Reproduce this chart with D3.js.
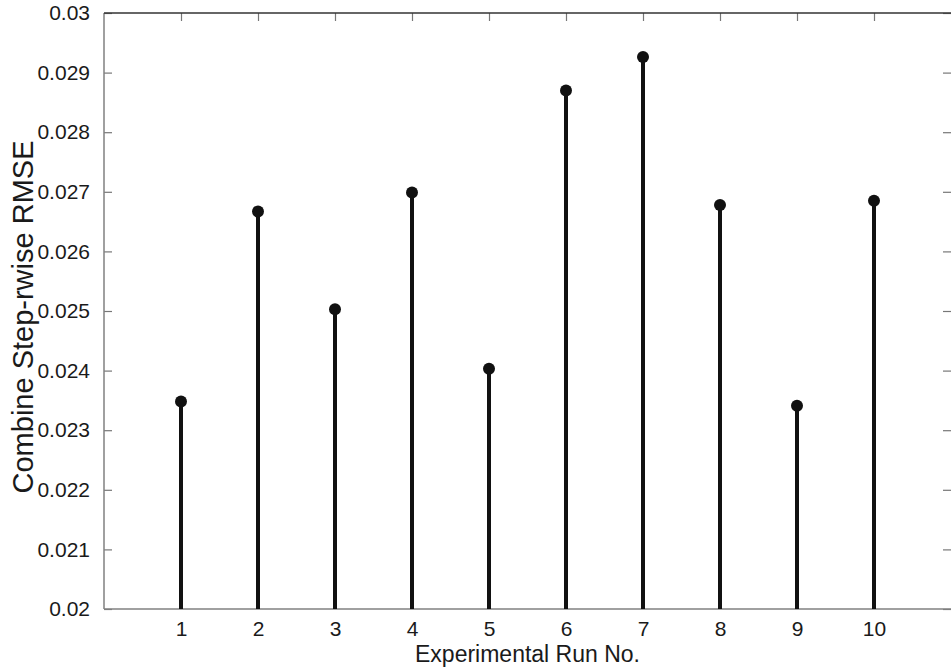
<!DOCTYPE html>
<html>
<head>
<meta charset="utf-8">
<script src="https://cdn.jsdelivr.net/npm/d3@7"></script>
<style>
  html, body { margin: 0; padding: 0; background: #fff; }
  text { font-family: "Liberation Sans", Arial, Helvetica, sans-serif; fill: #1a1a1a; }
</style>
</head>
<body>
<div id="chart"></div>
<script>
const runs = [1, 2, 3, 4, 5, 6, 7, 8, 9, 10];
const rmse = [0.02348, 0.02667, 0.02503, 0.02699, 0.02403, 0.02870, 0.02926, 0.02678, 0.02341, 0.02685];
const yTicks = [0.02, 0.021, 0.022, 0.023, 0.024, 0.025, 0.026, 0.027, 0.028, 0.029, 0.03];
const yTickLabels = ["0.02", "0.021", "0.022", "0.023", "0.024", "0.025", "0.026", "0.027", "0.028", "0.029", "0.03"];
const xLabel = "Experimental Run No.";
const yLabel = "Combine Step-rwise RMSE";

const W = 951, H = 667;
const margin = { top: 13, right: 0, bottom: 58, left: 104 };
const width = W - margin.left - margin.right;
const height = H - margin.top - margin.bottom;

const x = d3.scaleLinear().domain([0, 11]).range([0, width]);
const y = d3.scaleLinear().domain([0.02, 0.03]).range([height, 0]);

const svg = d3.select("#chart").append("svg")
  .attr("width", W).attr("height", H);
const g = svg.append("g")
  .attr("transform", `translate(${margin.left},${margin.top})`);

const data = runs.map((r, i) => ({ run: r, value: rmse[i] }));

// MATLAB style: inward ticks, mirrored on top and right
const tickLen = 8;
function styleAxis(sel) {
  sel.select(".domain").remove();
  sel.selectAll(".tick line").attr("stroke", "#777").attr("stroke-width", 1.2);
  sel.selectAll(".tick text").style("font-size", "21px").attr("fill", "#1a1a1a");
}

const xAxis = g.append("g")
  .attr("transform", `translate(0,${height})`)
  .call(d3.axisBottom(x).tickValues(runs).tickFormat(d3.format("d"))
    .tickSizeInner(-tickLen).tickSizeOuter(0).tickPadding(12));
styleAxis(xAxis);

const xTop = g.append("g")
  .call(d3.axisTop(x).tickValues(runs).tickFormat("")
    .tickSizeInner(-tickLen).tickSizeOuter(0));
styleAxis(xTop);

const yAxis = g.append("g")
  .call(d3.axisLeft(y).tickValues(yTicks).tickFormat((d, i) => yTickLabels[i])
    .tickSizeInner(-tickLen).tickSizeOuter(0).tickPadding(14));
styleAxis(yAxis);

const yRight = g.append("g")
  .attr("transform", `translate(${width},0)`)
  .call(d3.axisRight(y).tickValues(yTicks).tickFormat("")
    .tickSizeInner(-tickLen).tickSizeOuter(0));
styleAxis(yRight);

// spines (right one falls just outside the picture)
g.append("line").attr("x1", 0).attr("x2", 0).attr("y1", 0).attr("y2", height)
  .attr("stroke", "#808080").attr("stroke-width", 1.5);
g.append("line").attr("x1", 0).attr("x2", width).attr("y1", height).attr("y2", height)
  .attr("stroke", "#808080").attr("stroke-width", 1.5);
g.append("line").attr("x1", 0).attr("x2", width).attr("y1", 0).attr("y2", 0)
  .attr("stroke", "#333").attr("stroke-width", 1.5);

// stems
g.selectAll(".stem").data(data).enter().append("line")
  .attr("class", "stem")
  .attr("x1", d => x(d.run)).attr("x2", d => x(d.run))
  .attr("y1", y(0.02)).attr("y2", d => y(d.value))
  .attr("stroke", "#111").attr("stroke-width", 4);

g.selectAll(".dot").data(data).enter().append("circle")
  .attr("class", "dot")
  .attr("cx", d => x(d.run)).attr("cy", d => y(d.value))
  .attr("r", 6).attr("fill", "#111");

// axis titles
g.append("text")
  .attr("x", width / 2).attr("y", height + 53)
  .attr("text-anchor", "middle")
  .style("font-size", "23px")
  .text(xLabel);

g.append("text")
  .attr("transform", `translate(${-margin.left + 33},${height / 2 + 6}) rotate(-90)`)
  .attr("text-anchor", "middle")
  .style("font-size", "29px")
  .text(yLabel);
</script>
</body>
</html>
